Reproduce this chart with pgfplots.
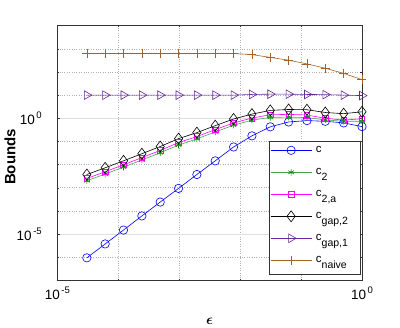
\documentclass[border=0pt]{standalone}
\usepackage{pgfplots}
\pgfplotsset{compat=1.18}
\usepackage{pgfplotstable}
\usepackage{amsmath}
\usepackage{fontspec}
\setmainfont{Liberation Sans}
\definecolor{cblue}{RGB}{0,0,255}
\definecolor{cgreen}{RGB}{0,128,0}
\definecolor{cgreenl}{RGB}{70,165,70}
\definecolor{cmag}{RGB}{255,0,255}
\definecolor{cpurp}{RGB}{102,40,150}
\definecolor{cbrown}{RGB}{166,98,38}
\newcommand{\sub}[1]{\raisebox{-5.5pt}{\fontsize{10.5}{11}\selectfont #1}}
\newcommand{\tl}[1]{10\raisebox{0.85ex}{\fontsize{9.5}{10}\selectfont\,#1}}

\pgfplotstableread{
x          c        c2       c2a      gap2     gap1   naive
3.0518e-5  9.33e-7  2.00e-3  2.51e-3  3.72e-3  10.0   631
6.1035e-5  3.72e-6  3.89e-3  4.90e-3  7.24e-3  10.0   631
1.2207e-4  1.48e-5  7.76e-3  9.77e-3  1.45e-2  10.0   631
2.4414e-4  6.03e-5  1.58e-2  2.00e-2  2.95e-2  10.0   631
4.8828e-4  2.40e-4  3.24e-2  4.07e-2  6.03e-2  10.0   631
9.7656e-4  9.33e-4  6.92e-2  8.91e-2  0.132    10.0   631
1.9531e-3  3.72e-3  0.129    0.162    0.240    10.0   631
3.9063e-3  1.45e-2  0.257    0.324    0.479    10.0   631
7.8125e-3  5.75e-2  0.501    0.631    0.933    10.0   631
0.015625   0.174    0.832    1.023    1.514    10.7   562
0.03125    0.427    1.096    1.413    2.188    11.0   427
0.0625     0.692    1.122    1.479    2.399    11.0   324
0.125      0.794    1.072    1.380    2.344    10.7   224
0.25       0.741    0.851    1.000    1.778    10.5   145
0.5        0.631    0.741    0.832    1.585    10.0   87.1
1.0        0.437    0.741    0.955    1.905    9.55   46.8
}\data

\begin{document}
\begin{tikzpicture}
\path[use as bounding box] (-57.3pt,-47.7pt) rectangle (342.7pt,280.3pt);
\begin{axis}[
  at={(0pt,0pt)}, anchor=south west,
  scale only axis, width=304.7pt, height=254.6pt,
  xmode=log, ymode=log,
  xmin=1e-5, xmax=1, ymin=1e-7, ymax=1e4,
  xtick={1e-5,1}, xticklabels={\tl{-5},\tl{0}},
  ytick={1e-5,1}, yticklabels={\tl{-5},\tl{0}},
  minor xtick={1e-4,1e-3,1e-2,1e-1},
  minor ytick={1e-6,1e-4,1e-3,1e-2,1e-1,1e1,1e2,1e3},
  grid=both,
  major grid style={solid, gray!25, line width=0.5pt},
  minor grid style={dotted, gray!60, line width=0.5pt},
  axis line style={black!80, line width=0.5pt},
  tick align=inside, major tick length=3pt, minor tick length=1.5pt,
  tick style={black!80},
  ticklabel style={font=\fontsize{13.5}{15}\selectfont},
  xticklabel style={yshift=-3pt},
  yticklabel style={xshift=-12pt},
  xlabel={$\boldsymbol{\epsilon}$},
  xlabel style={at={(axis description cs:0.5,-0.163)}, anchor=center, font=\fontsize{14}{16}\selectfont},
  ylabel={\textbf{Bounds}},
  ylabel style={at={(axis description cs:-0.155,0.484)}, anchor=center, font=\fontsize{15}{17}\selectfont},
  legend style={at={(rel axis cs:0.9934,0.0247)}, anchor=south east,
    draw=black!80, fill=white, font=\fontsize{11.5}{13}\selectfont,
    inner xsep=1pt, inner ysep=1pt, row sep=1pt, column sep=1pt,
    nodes={text height=8pt, text depth=7pt, inner xsep=3pt, inner ysep=3pt}},
  legend cell align=left,
  legend image code/.code={\draw[mark repeat=2,mark phase=2,#1] plot coordinates {(0pt,2pt) (20.5pt,2pt) (41pt,2pt)};},
  every axis plot/.append style={line width=0.6pt},
]
\addplot[cblue, mark=o, mark size=4.2pt] table[x=x,y=c]{\data};
\addlegendentry{c}
\addplot[cgreenl, mark=asterisk, mark size=3.2pt, mark options={cgreen}] table[x=x,y=c2]{\data};
\addlegendentry{c\sub{2}}
\addplot[cmag, mark=square, mark size=2.8pt] table[x=x,y=c2a]{\data};
\addlegendentry{c\sub{2,a}}
\addplot[black, mark=diamond, mark size=5.5pt] table[x=x,y=gap2]{\data};
\addlegendentry{c\sub{gap,2}}
\addplot[cpurp, mark=triangle, mark size=5pt, mark options={rotate=-90}] table[x=x,y=gap1]{\data};
\addlegendentry{c\sub{gap,1}}
\addplot[cbrown, mark=+, mark size=4.5pt] table[x=x,y=naive]{\data};
\addlegendentry{c\sub{naive}\rule{9pt}{0pt}}
\end{axis}
\end{tikzpicture}
\end{document}
